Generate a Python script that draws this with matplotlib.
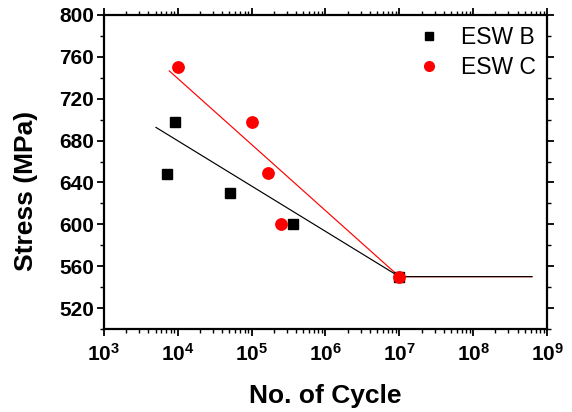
import numpy as np
import matplotlib.pyplot as plt
from matplotlib.ticker import FixedLocator, NullFormatter, FixedFormatter

plt.rcParams['font.family'] = ['Liberation Sans', 'DejaVu Sans']
plt.rcParams['mathtext.fontset'] = 'custom'
plt.rcParams['mathtext.rm'] = 'Liberation Sans:bold'
plt.rcParams['mathtext.bf'] = 'Liberation Sans:bold'

# measured points
cyc_b = [7050, 9100, 50700, 365000, 1e7]
stress_b = [648, 698, 630, 600, 550]
cyc_c = [10100, 100000, 167000, 246000, 1e7]
stress_c = [750, 698, 649, 600, 550]

# fitted lines
fit_b_x = [5060, 1e7, 6.25e8]
fit_b_y = [692.6, 550, 550]
fit_c_x = [7660, 1e7, 6.25e8]
fit_c_y = [746.6, 550, 550]

fig = plt.figure(figsize=(5.72, 4.12), dpi=100)
ax = fig.add_axes([0.1818, 0.2015, 0.7745, 0.7621])

ax.plot(fit_c_x, fit_c_y, color='red', lw=0.85, zorder=2)
ax.plot(fit_b_x, fit_b_y, color='black', lw=0.85, zorder=2)
ax.plot(cyc_b, stress_b, 's', color='black', ms=7.3, ls='none', label='ESW B', zorder=3)
ax.plot(cyc_c, stress_c, 'o', color='red', ms=8.2, ls='none', label='ESW C', zorder=4)

ax.set_xscale('log')
ax.set_xlim(1e3, 1e9)
ax.set_ylim(500, 800)

decades = [3, 4, 5, 6, 7, 8, 9]
ax.xaxis.set_major_locator(FixedLocator([10.0**d for d in decades]))
ax.xaxis.set_major_formatter(FixedFormatter([r'$\mathbf{10^{%d}}$' % d for d in decades]))
minors = [m * 10.0**d for d in decades[:-1] for m in range(2, 10)]
ax.xaxis.set_minor_locator(FixedLocator(minors))
ax.xaxis.set_minor_formatter(NullFormatter())

ax.set_yticks(np.arange(520, 801, 40))
ax.set_yticks(np.arange(500, 801, 20), minor=True)

for s in ax.spines.values():
    s.set_linewidth(1.6)

ax.tick_params(which='major', direction='out', length=5, width=1.3, labelsize=15,
               top=True, right=True)
ax.tick_params(axis='y', which='major', pad=2)
ax.tick_params(axis='x', which='major', pad=5)
ax.tick_params(which='minor', direction='out', length=3, width=1.0, top=True, right=True)
for lab in ax.get_yticklabels():
    lab.set_fontweight('bold')

ax.set_xlabel('No. of Cycle', fontsize=19, fontweight='bold', labelpad=14)
ax.set_ylabel('Stress (MPa)', fontsize=19, fontweight='bold')
ax.yaxis.set_label_coords(-0.150, 0.44)

ax.legend(loc='upper right', frameon=False, fontsize=16.5, handletextpad=0.65,
          borderaxespad=0.1, labelspacing=0.3, markerscale=0.85, handlelength=1.5)

fig.savefig('out.png', dpi=100)
